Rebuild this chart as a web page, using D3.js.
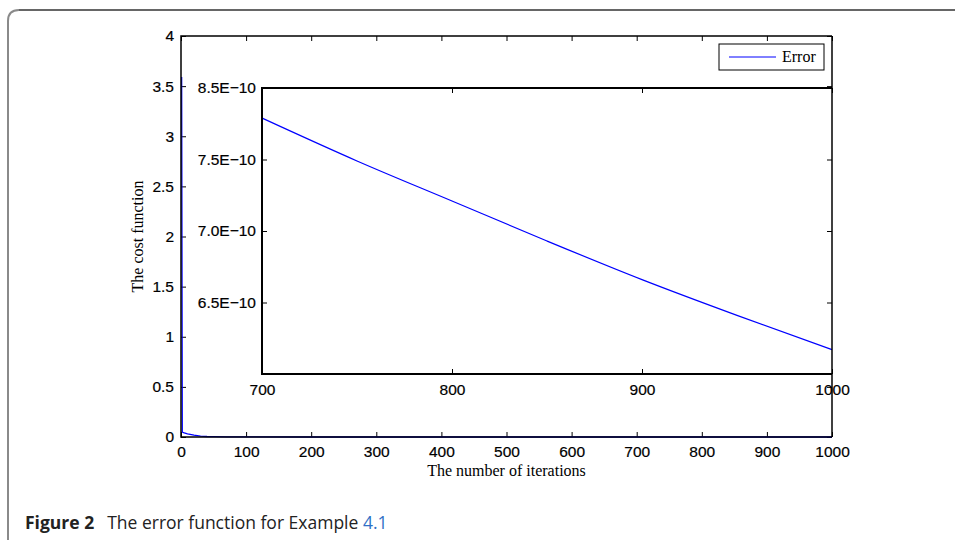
<!DOCTYPE html>
<html>
<head>
<meta charset="utf-8">
<script src="https://cdn.jsdelivr.net/npm/d3@7"></script>
<style>
  body { margin: 0; background: white; }
  svg { display: block; }
</style>
</head>
<body>
<div id="chart"></div>
<script>
// main curve: cost per iteration
const
  mainIter = [1, 2, 3, 5, 10, 20, 30, 40, 50, 70, 100, 200, 300, 400, 500, 600, 700, 800, 900, 1000],
  mainCost = [3.59, 0.05, 0.046, 0.04, 0.032, 0.018, 0.009, 0.005, 0.003, 0.0012, 0.0004, 0.00002, 0.000001, 0, 0, 0, 0, 0, 0, 0],
  mainXTicks = [0, 100, 200, 300, 400, 500, 600, 700, 800, 900, 1000],
  mainYTicks = [0, 0.5, 1, 1.5, 2, 2.5, 3, 3.5, 4],

  // zoomed view of the tail
  insetIter = [700, 750, 800, 850, 900, 950, 1000],
  insetCost = [8.29e-10, 7.99e-10, 7.71e-10, 7.43e-10, 7.16e-10, 6.91e-10, 6.67e-10],
  insetXTicks = [700, 800, 900, 1000],
  insetYTicks = [8.5e-10, 8.0e-10, 7.5e-10, 7.0e-10],
  insetYLabels = ['8.5E\u221210', '7.5E\u221210', '7.0E\u221210', '6.5E\u221210'],

  seriesName = 'Error';

let
  w = 955,
  h = 540,
  tickFont = '"Liberation Sans", Arial, sans-serif',
  serifFont = '"Liberation Serif", "Times New Roman", serif',
  blue = '#0000ff',
  svg,
  x,
  y,
  xi,
  yi,
  line,
  lineI,
  inset,
  legend,
  caption;

svg = d3.select('#chart')
  .append('svg')
  .attr('width', w)
  .attr('height', h);

// page frame (rounded corner at top left)
svg.append('path')
  .attr('d', 'M8,540 V21 Q8,10 19,10')
  .attr('fill', 'none')
  .attr('stroke', '#8a8a8a')
  .attr('stroke-width', 2);
svg.append('path')
  .attr('d', 'M19,10 H955')
  .attr('fill', 'none')
  .attr('stroke', '#333')
  .attr('stroke-width', 1.5);

x = d3.scaleLinear().domain([0, 1000]).range([181, 832]);
y = d3.scaleLinear().domain([0, 4]).range([437, 36]);

function styleAxis(g) {
  g.select('.domain').remove();
  g.selectAll('line').attr('stroke', 'black').attr('stroke-width', 1);
  g.selectAll('text')
    .attr('fill', 'black')
    .attr('font-family', tickFont)
    .attr('font-size', 15.5)
    .attr('stroke', 'black')
    .attr('stroke-width', 0.2);
}

// main axes
svg.append('g')
  .attr('transform', 'translate(0,' + y(0) + ')')
  .call(d3.axisBottom(x).tickValues(mainXTicks).tickSize(-5).tickPadding(9).tickFormat(d3.format('d')))
  .call(styleAxis);

svg.append('g')
  .attr('transform', 'translate(0,' + y(4) + ')')
  .call(d3.axisTop(x).tickValues(mainXTicks).tickSize(-5).tickFormat(''))
  .call(styleAxis);

svg.append('g')
  .attr('transform', 'translate(' + x(0) + ',0)')
  .call(d3.axisLeft(y).tickValues(mainYTicks).tickSize(-5).tickPadding(7).tickFormat(function (d) { return String(d); }))
  .call(styleAxis);

svg.append('g')
  .attr('transform', 'translate(' + x(1000) + ',0)')
  .call(d3.axisRight(y).tickValues(mainYTicks).tickSize(-5).tickFormat(''))
  .call(styleAxis);

line = d3.line()
  .x(function (d, i) { return x(mainIter[i]); })
  .y(function (d) { return y(d); });

svg.append('path')
  .datum(mainCost)
  .attr('fill', 'none')
  .attr('stroke', blue)
  .attr('stroke-width', 1.3)
  .attr('d', line);

// main box (left, top, bottom)
svg.append('path')
  .attr('d', 'M' + x(1000) + ',' + y(4) + ' H' + x(0) + ' V' + y(0) + ' H' + x(1000))
  .attr('fill', 'none')
  .attr('stroke', 'black')
  .attr('stroke-width', 1.5);

// axis titles
svg.append('text')
  .attr('x', (x(0) + x(1000)) / 2)
  .attr('y', 476)
  .attr('text-anchor', 'middle')
  .attr('font-family', serifFont)
  .attr('font-size', 16)
  .text('The number of iterations');

svg.append('text')
  .attr('transform', 'translate(143,' + ((y(0) + y(4)) / 2) + ') rotate(-90)')
  .attr('text-anchor', 'middle')
  .attr('font-family', serifFont)
  .attr('font-size', 16)
  .text('The cost function');

// inset
xi = d3.scaleLinear().domain([700, 1000]).range([262, 832]);
yi = d3.scaleLinear().domain([6.5e-10, 8.5e-10]).range([374, 88]);

inset = svg.append('g');

inset.append('rect')
  .attr('x', xi(700))
  .attr('y', yi(8.5e-10))
  .attr('width', xi(1000) - xi(700))
  .attr('height', yi(6.5e-10) - yi(8.5e-10))
  .attr('fill', 'white');

inset.append('g')
  .attr('transform', 'translate(0,' + yi(6.5e-10) + ')')
  .call(d3.axisBottom(xi).tickValues(insetXTicks).tickSize(-5).tickPadding(10).tickFormat(d3.format('d')))
  .call(styleAxis);

inset.append('g')
  .attr('transform', 'translate(0,' + yi(8.5e-10) + ')')
  .call(d3.axisTop(xi).tickValues(insetXTicks).tickSize(-5).tickFormat(''))
  .call(styleAxis);

inset.append('g')
  .attr('transform', 'translate(' + xi(700) + ',0)')
  .call(d3.axisLeft(yi).tickValues(insetYTicks).tickSize(-5).tickPadding(6)
    .tickFormat(function (d, i) { return insetYLabels[i]; }))
  .call(styleAxis);

inset.append('g')
  .attr('transform', 'translate(' + xi(1000) + ',0)')
  .call(d3.axisRight(yi).tickValues(insetYTicks).tickSize(-5).tickFormat(''))
  .call(styleAxis);

lineI = d3.line()
  .curve(d3.curveMonotoneX)
  .x(function (d, i) { return xi(insetIter[i]); })
  .y(function (d) { return yi(d); });

inset.append('path')
  .datum(insetCost)
  .attr('fill', 'none')
  .attr('stroke', blue)
  .attr('stroke-width', 1.2)
  .attr('d', lineI);

inset.append('path')
  .attr('d', 'M' + xi(1000) + ',' + yi(8.5e-10) + ' H' + xi(700) + ' V' + yi(6.5e-10) + ' H' + xi(1000))
  .attr('fill', 'none')
  .attr('stroke', 'black')
  .attr('stroke-width', 2);

// main right edge drawn over the inset
svg.append('line')
  .attr('x1', x(1000))
  .attr('x2', x(1000))
  .attr('y1', y(4))
  .attr('y2', y(0))
  .attr('stroke', 'black')
  .attr('stroke-width', 1.5);

// legend
legend = svg.append('g');

legend.append('rect')
  .attr('x', 719)
  .attr('y', 44)
  .attr('width', 105)
  .attr('height', 26)
  .attr('fill', 'white')
  .attr('stroke', 'black')
  .attr('stroke-width', 1);

legend.append('line')
  .attr('x1', 729)
  .attr('x2', 776)
  .attr('y1', 57)
  .attr('y2', 57)
  .attr('stroke', blue)
  .attr('stroke-width', 1);

legend.append('text')
  .attr('x', 782)
  .attr('y', 62)
  .attr('font-family', serifFont)
  .attr('font-size', 16)
  .text(seriesName);

// caption
caption = svg.append('text')
  .attr('x', 25)
  .attr('y', 529)
  .attr('font-family', '"Open Sans", "Noto Sans", sans-serif')
  .attr('font-size', 17.5)
  .attr('fill', '#222');

caption.append('tspan')
  .attr('font-weight', 'bold')
  .text('Figure 2');
caption.append('tspan')
  .attr('dx', 13)
  .text('The error function for Example ');
caption.append('tspan')
  .attr('fill', '#2f6fc6')
  .text('4.1');
</script>
</body>
</html>
